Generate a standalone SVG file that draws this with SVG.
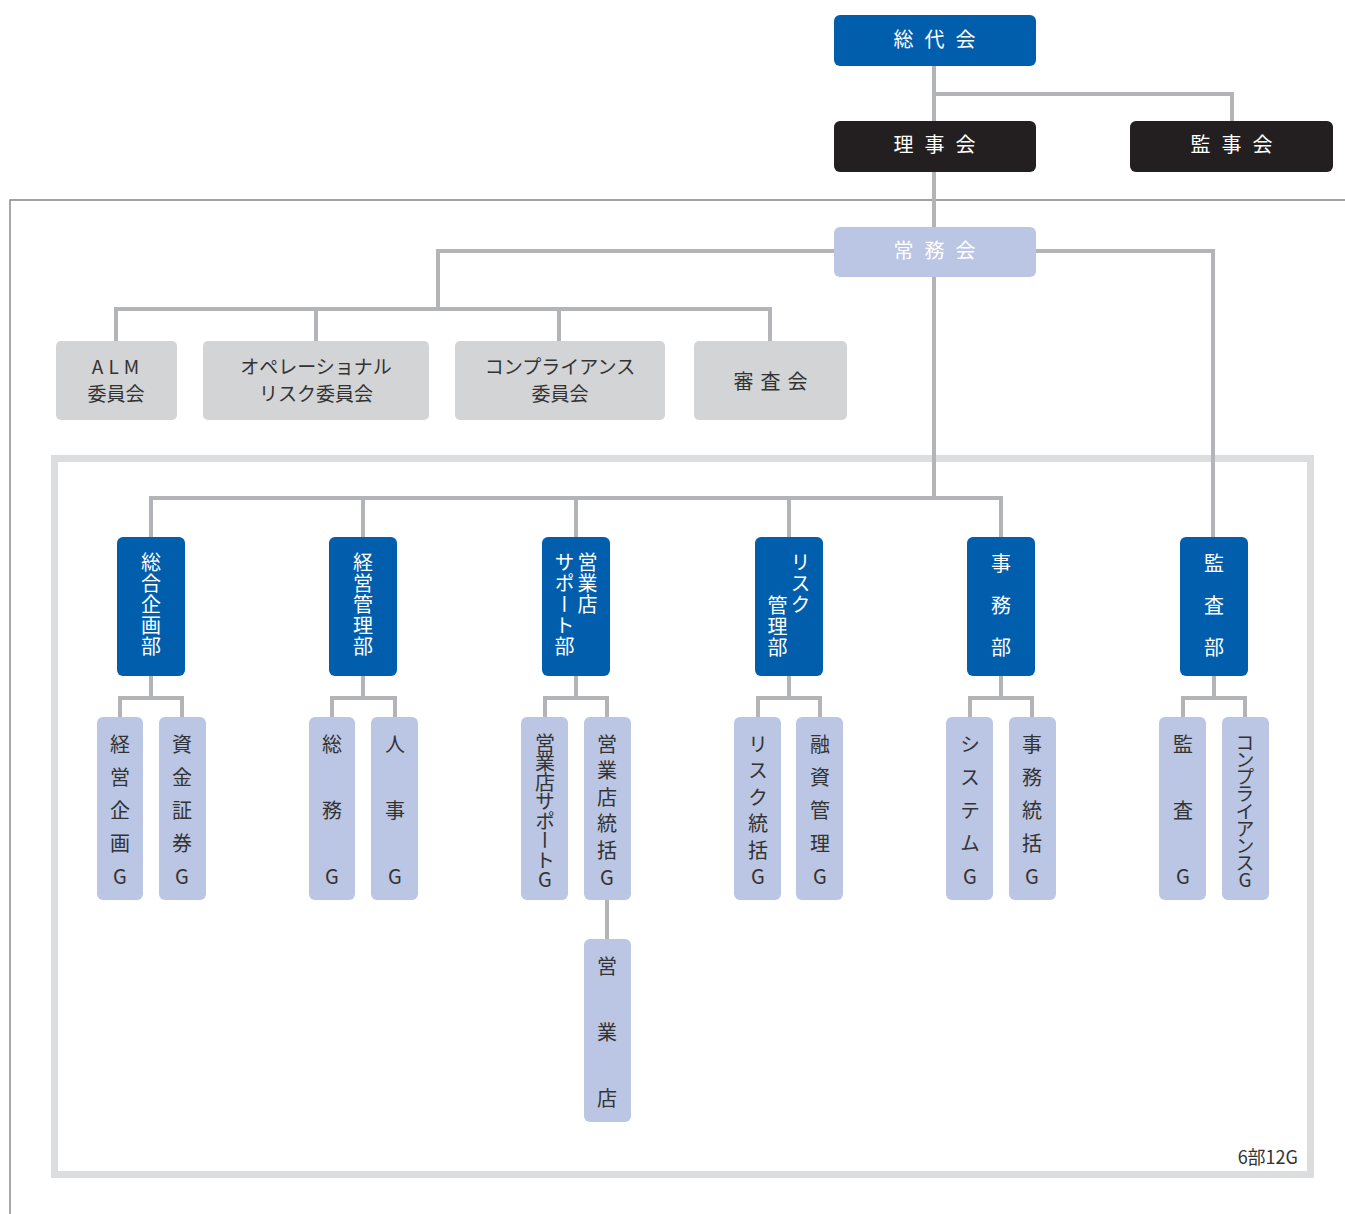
<svg xmlns="http://www.w3.org/2000/svg" width="1345" height="1214" viewBox="0 0 1345 1214">
<style>
text{font-family:"Noto Sans CJK JP","Noto Sans",sans-serif;}
.blue{fill:#005EAD;}
.black{fill:#231F20;}
.lb{fill:#BAC6E3;}
.gray{fill:#D3D4D6;}
.wt{fill:#FFFFFF;font-size:20px;}
.dk{fill:#333333;font-size:20px;}
.cm{fill:#333333;font-size:19px;text-anchor:middle;}
.hz{text-anchor:middle;}
.vt{writing-mode:vertical-rl;text-orientation:upright;font-size:20px;}
.con{fill:none;stroke:#B2B4B7;stroke-width:4;stroke-linejoin:miter;}
</style>
<g id="frame">
<polyline points="1345,200 10,200 10,1214" fill="none" stroke="#848484" stroke-width="1.4"/>
<rect x="54.5" y="458.5" width="1256" height="716" fill="none" stroke="#DCDDDF" stroke-width="7"/>
</g>
<g id="connectors">
<path class="con" d="M934,66V121M934,94H1232V121M934,172V227"/>
<path class="con" d="M834,251H438V309M116,341V309H770V341M316,309V341M559,309V341"/>
<path class="con" d="M1036,251H1213V537"/>
<path class="con" d="M934,277V498M151,537V498H1001V537M363,498V537M576,498V537M789,498V537"/>
<path class="con" d="M151,676V698M120,717V698H182V717"/>
<path class="con" d="M363,676V698M332,717V698H395V717"/>
<path class="con" d="M576,676V698M545,717V698H607V717M607,900V939"/>
<path class="con" d="M789,676V698M758,717V698H820V717"/>
<path class="con" d="M1001,676V698M970,717V698H1032V717"/>
<path class="con" d="M1214,676V698M1183,717V698H1245V717"/>
</g>
<g id="soudaikai"><rect class="blue" x="834" y="15" width="202" height="51" rx="6"/><text class="wt hz" x="940" y="47" letter-spacing="11">総代会</text></g>
<g id="rijikai"><rect class="black" x="834" y="121" width="202" height="51" rx="6"/><text class="wt hz" x="940" y="152" letter-spacing="11">理事会</text></g>
<g id="kanjikai"><rect class="black" x="1130" y="121" width="203" height="51" rx="6"/><text class="wt hz" x="1237" y="152" letter-spacing="11">監事会</text></g>
<g id="joumukai"><rect class="lb" x="834" y="227" width="202" height="50" rx="6"/><text class="wt hz" x="940" y="258" letter-spacing="11">常務会</text></g>
<g id="alm"><rect class="gray" x="56" y="341" width="121" height="79" rx="5"/><text class="cm" x="118" y="374" letter-spacing="5">ALM</text><text class="cm" x="116" y="401">委員会</text></g>
<g id="opr"><rect class="gray" x="203" y="341" width="226" height="79" rx="5"/><text class="cm" x="316" y="374">オペレーショナル</text><text class="cm" x="316" y="401">リスク委員会</text></g>
<g id="comp"><rect class="gray" x="455" y="341" width="210" height="79" rx="5"/><text class="cm" x="560" y="374">コンプライアンス</text><text class="cm" x="560" y="401">委員会</text></g>
<g id="shinsa"><rect class="gray" x="694" y="341" width="153" height="79" rx="5"/><text class="dk hz" x="774" y="389" letter-spacing="7">審査会</text></g>
<g id="sougou"><rect class="blue" x="117" y="537" width="68" height="139" rx="6"/><text class="wt vt" x="151" y="552" letter-spacing="1">総合企画部</text></g>
<g id="keiei"><rect class="blue" x="329" y="537" width="68" height="139" rx="6"/><text class="wt vt" x="363" y="552" letter-spacing="1">経営管理部</text></g>
<g id="eigyou"><rect class="blue" x="542" y="537" width="68" height="139" rx="6"/><text class="wt vt" x="587.5" y="552" letter-spacing="1">営業店</text><text class="wt vt" x="564.5" y="552" letter-spacing="1">サポート部</text></g>
<g id="risk"><rect class="blue" x="755" y="537" width="68" height="139" rx="6"/><text class="wt vt" x="800.5" y="552" letter-spacing="1">リスク</text><text class="wt vt" x="777.5" y="595" letter-spacing="1">管理部</text></g>
<g id="jimu"><rect class="blue" x="967" y="537" width="68" height="139" rx="6"/><text class="wt vt" x="1001" y="553" letter-spacing="22">事務部</text></g>
<g id="kansa"><rect class="blue" x="1180" y="537" width="68" height="139" rx="6"/><text class="wt vt" x="1214" y="553" letter-spacing="22">監査部</text></g>
<g id="g-keieikikaku"><rect class="lb" x="97" y="717" width="46" height="183" rx="6"/><text class="dk vt" x="120" y="734" letter-spacing="13">経営企画G</text></g>
<g id="g-shikin"><rect class="lb" x="159" y="717" width="47" height="183" rx="6"/><text class="dk vt" x="182" y="734" letter-spacing="13">資金証券G</text></g>
<g id="g-soumu"><rect class="lb" x="309" y="717" width="46" height="183" rx="6"/><text class="dk vt" x="332" y="734" letter-spacing="46">総務G</text></g>
<g id="g-jinji"><rect class="lb" x="371" y="717" width="47" height="183" rx="6"/><text class="dk vt" x="395" y="734" letter-spacing="46">人事G</text></g>
<g id="g-eigyousupport"><rect class="lb" x="521" y="717" width="47" height="183" rx="6"/><text class="dk vt" x="545" y="733" letter-spacing="-0.5">営業店サポートG</text></g>
<g id="g-eigyoutoukatsu"><rect class="lb" x="584" y="717" width="47" height="183" rx="6"/><text class="dk vt" x="607" y="734" letter-spacing="6.6">営業店統括G</text></g>
<g id="eigyouten"><rect class="lb" x="584" y="939" width="47" height="183" rx="6"/><text class="dk vt" x="607" y="956" letter-spacing="46">営業店</text></g>
<g id="g-risktoukatsu"><rect class="lb" x="734" y="717" width="47" height="183" rx="6"/><text class="dk vt" x="758" y="734" letter-spacing="6.5">リスク統括G</text></g>
<g id="g-yuushi"><rect class="lb" x="796" y="717" width="47" height="183" rx="6"/><text class="dk vt" x="820" y="734" letter-spacing="13">融資管理G</text></g>
<g id="g-system"><rect class="lb" x="946" y="717" width="47" height="183" rx="6"/><text class="dk vt" x="970" y="734" letter-spacing="13">システムG</text></g>
<g id="g-jimutoukatsu"><rect class="lb" x="1009" y="717" width="47" height="183" rx="6"/><text class="dk vt" x="1032" y="734" letter-spacing="13">事務統括G</text></g>
<g id="g-kansa"><rect class="lb" x="1159" y="717" width="47" height="183" rx="6"/><text class="dk vt" x="1183" y="734" letter-spacing="46">監査G</text></g>
<g id="g-compliance"><rect class="lb" x="1222" y="717" width="47" height="183" rx="6"/><text class="dk vt" x="1245" y="733" style="font-size:19px" letter-spacing="-1.8">コンプライアンスG</text></g>
<g id="summary"><text x="1298" y="1164" style="font-size:18px;fill:#333333;text-anchor:end">6部12G</text></g>
</svg>
